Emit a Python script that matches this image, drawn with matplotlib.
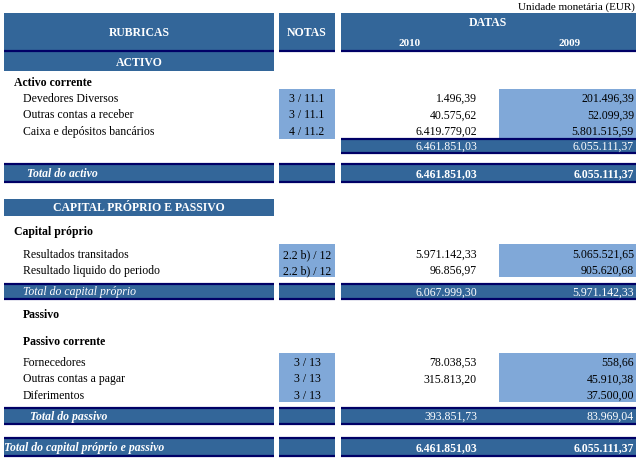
import matplotlib
matplotlib.use("Agg")
from matplotlib import pyplot as plt
from matplotlib.patches import Rectangle

plt.rcParams['font.family'] = ['Liberation Serif', 'DejaVu Serif']

# dados do balanço
activo_labels = ["Devedores Diversos", "Outras contas a receber", "Caixa e depósitos bancários"]
activo_notas = ["3 / 11.1", "3 / 11.1", "4 / 11.2"]
activo_2010 = [1496.39, 40575.62, 6419779.02]
activo_2009 = [201496.39, 52099.39, 5801515.59]
total_activo = [6461851.03, 6055111.37]

capital_labels = ["Resultados transitados", "Resultado liquido do periodo"]
capital_notas = ["2.2 b) / 12", "2.2 b) / 12"]
capital_2010 = [5971142.33, 96856.97]
capital_2009 = [5065521.65, 905620.68]
total_capital = [6067999.30, 5971142.33]

passivo_labels = ["Fornecedores", "Outras contas a pagar", "Diferimentos"]
passivo_notas = ["3 / 13", "3 / 13", "3 / 13"]
passivo_2010 = [78038.53, 315813.20, None]
passivo_2009 = [558.66, 45910.38, 37500.00]
total_passivo = [393851.73, 83969.04]

total_cap_passivo = [6461851.03, 6055111.37]
anos = ["2010", "2009"]

BAND = '#336699'
NAVY = '#000066'
LIGHT = '#80a8d8'
FS = 8.5


def fmt(v):  # formato portugues 1.234,56
    if v is None:
        return ""
    s = "{:,.2f}".format(v)
    return s.replace(",", "X").replace(".", ",").replace("X", ".")


fig = plt.figure(figsize=(6.4, 4.64), dpi=100)
ax = fig.add_axes([0, 0, 1, 1])
ax.set_xlim(0, 640)
ax.set_ylim(464, 0)
ax.axis('off')

COLS = [(4, 274), (279, 335), (341, 636)]
X2010 = 477
X2009 = 634
XNOTA = 307


def rect(x0, x1, y0, y1, color):
    ax.add_patch(Rectangle((x0, y0), x1 - x0, y1 - y0, facecolor=color, edgecolor='none'))


def navy(x0, x1, y):
    ax.plot([x0, x1], [y, y], color=NAVY, lw=1.6, solid_capstyle='butt')


def band(y0, y1, cols=(0, 1, 2), top=True, bottom=True):
    for c in cols:
        x0, x1 = COLS[c]
        rect(x0, x1, y0, y1, BAND)
        if top:
            navy(x0, x1, y0 + 0.8)
        if bottom:
            navy(x0, x1, y1 - 0.8)


def txt(x, y, s, ha='left', color='black', weight='normal', style='normal', size=FS):
    ax.text(x, y, s, ha=ha, va='center', color=color, fontweight=weight,
            fontstyle=style, fontsize=size)


# cabeçalho
txt(635, 7, "Unidade monetária (EUR)", ha='right', size=8)
band(14, 53, top=False)
txt(139, 33, "RUBRICAS", ha='center', color='white', weight='bold')
txt(307, 33, "NOTAS", ha='center', color='white', weight='bold')
txt(488, 23, "DATAS", ha='center', color='white', weight='bold')
txt(410, 43, anos[0], ha='center', color='white', weight='bold', size=8)
txt(570, 43, anos[1], ha='center', color='white', weight='bold', size=8)

# ACTIVO
rect(4, 274, 53, 72, BAND)
txt(139, 63, "ACTIVO", ha='center', color='white', weight='bold')
txt(14, 83, "Activo corrente", weight='bold')
rect(279, 335, 90, 140, LIGHT)
rect(499, 636, 90, 140, LIGHT)
for i, lab in enumerate(activo_labels):
    y = 99 + i * 16.5
    txt(23, y, lab)
    txt(XNOTA, y, activo_notas[i], ha='center')
    txt(X2010, y, fmt(activo_2010[i]), ha='right')
    txt(X2009, y, fmt(activo_2009[i]), ha='right')

band(139, 155, cols=(2,))
txt(X2010, 147, fmt(total_activo[0]), ha='right', color='white')
txt(X2009, 147, fmt(total_activo[1]), ha='right', color='white')

band(164, 184)
txt(27, 174, "Total do activo", color='white', weight='bold', style='italic')
txt(X2010, 174, fmt(total_activo[0]), ha='right', color='white', weight='bold')
txt(X2009, 174, fmt(total_activo[1]), ha='right', color='white', weight='bold')

# CAPITAL PRÓPRIO E PASSIVO
rect(4, 274, 200, 217, BAND)
txt(139, 208.5, "CAPITAL PRÓPRIO E PASSIVO", ha='center', color='white', weight='bold')
txt(14, 232, "Capital próprio", weight='bold')
rect(279, 335, 245, 278, LIGHT)
rect(499, 636, 245, 278, LIGHT)
for i, lab in enumerate(capital_labels):
    y = 255 + i * 16
    txt(23, y, lab)
    txt(XNOTA, y, capital_notas[i], ha='center')
    txt(X2010, y, fmt(capital_2010[i]), ha='right')
    txt(X2009, y, fmt(capital_2009[i]), ha='right')

band(284, 301)
txt(23, 292.5, "Total do capital próprio", color='white', style='italic')
txt(X2010, 292.5, fmt(total_capital[0]), ha='right', color='white')
txt(X2009, 292.5, fmt(total_capital[1]), ha='right', color='white')

txt(23, 315, "Passivo", weight='bold')
txt(23, 342, "Passivo corrente", weight='bold')
rect(279, 335, 354, 403, LIGHT)
rect(499, 636, 354, 403, LIGHT)
for i, lab in enumerate(passivo_labels):
    y = 363 + i * 16.5
    txt(23, y, lab)
    txt(XNOTA, y, passivo_notas[i], ha='center')
    txt(X2010, y, fmt(passivo_2010[i]), ha='right')
    txt(X2009, y, fmt(passivo_2009[i]), ha='right')

band(408, 426)
txt(30, 417, "Total do passivo", color='white', weight='bold', style='italic')
txt(X2010, 417, fmt(total_passivo[0]), ha='right', color='white')
txt(X2009, 417, fmt(total_passivo[1]), ha='right', color='white')

band(438, 458)
txt(4, 448, "Total do capital próprio e passivo", color='white', weight='bold', style='italic')
txt(X2010, 448, fmt(total_cap_passivo[0]), ha='right', color='white', weight='bold')
txt(X2009, 448, fmt(total_cap_passivo[1]), ha='right', color='white', weight='bold')

fig.savefig("out.png", dpi=100)
